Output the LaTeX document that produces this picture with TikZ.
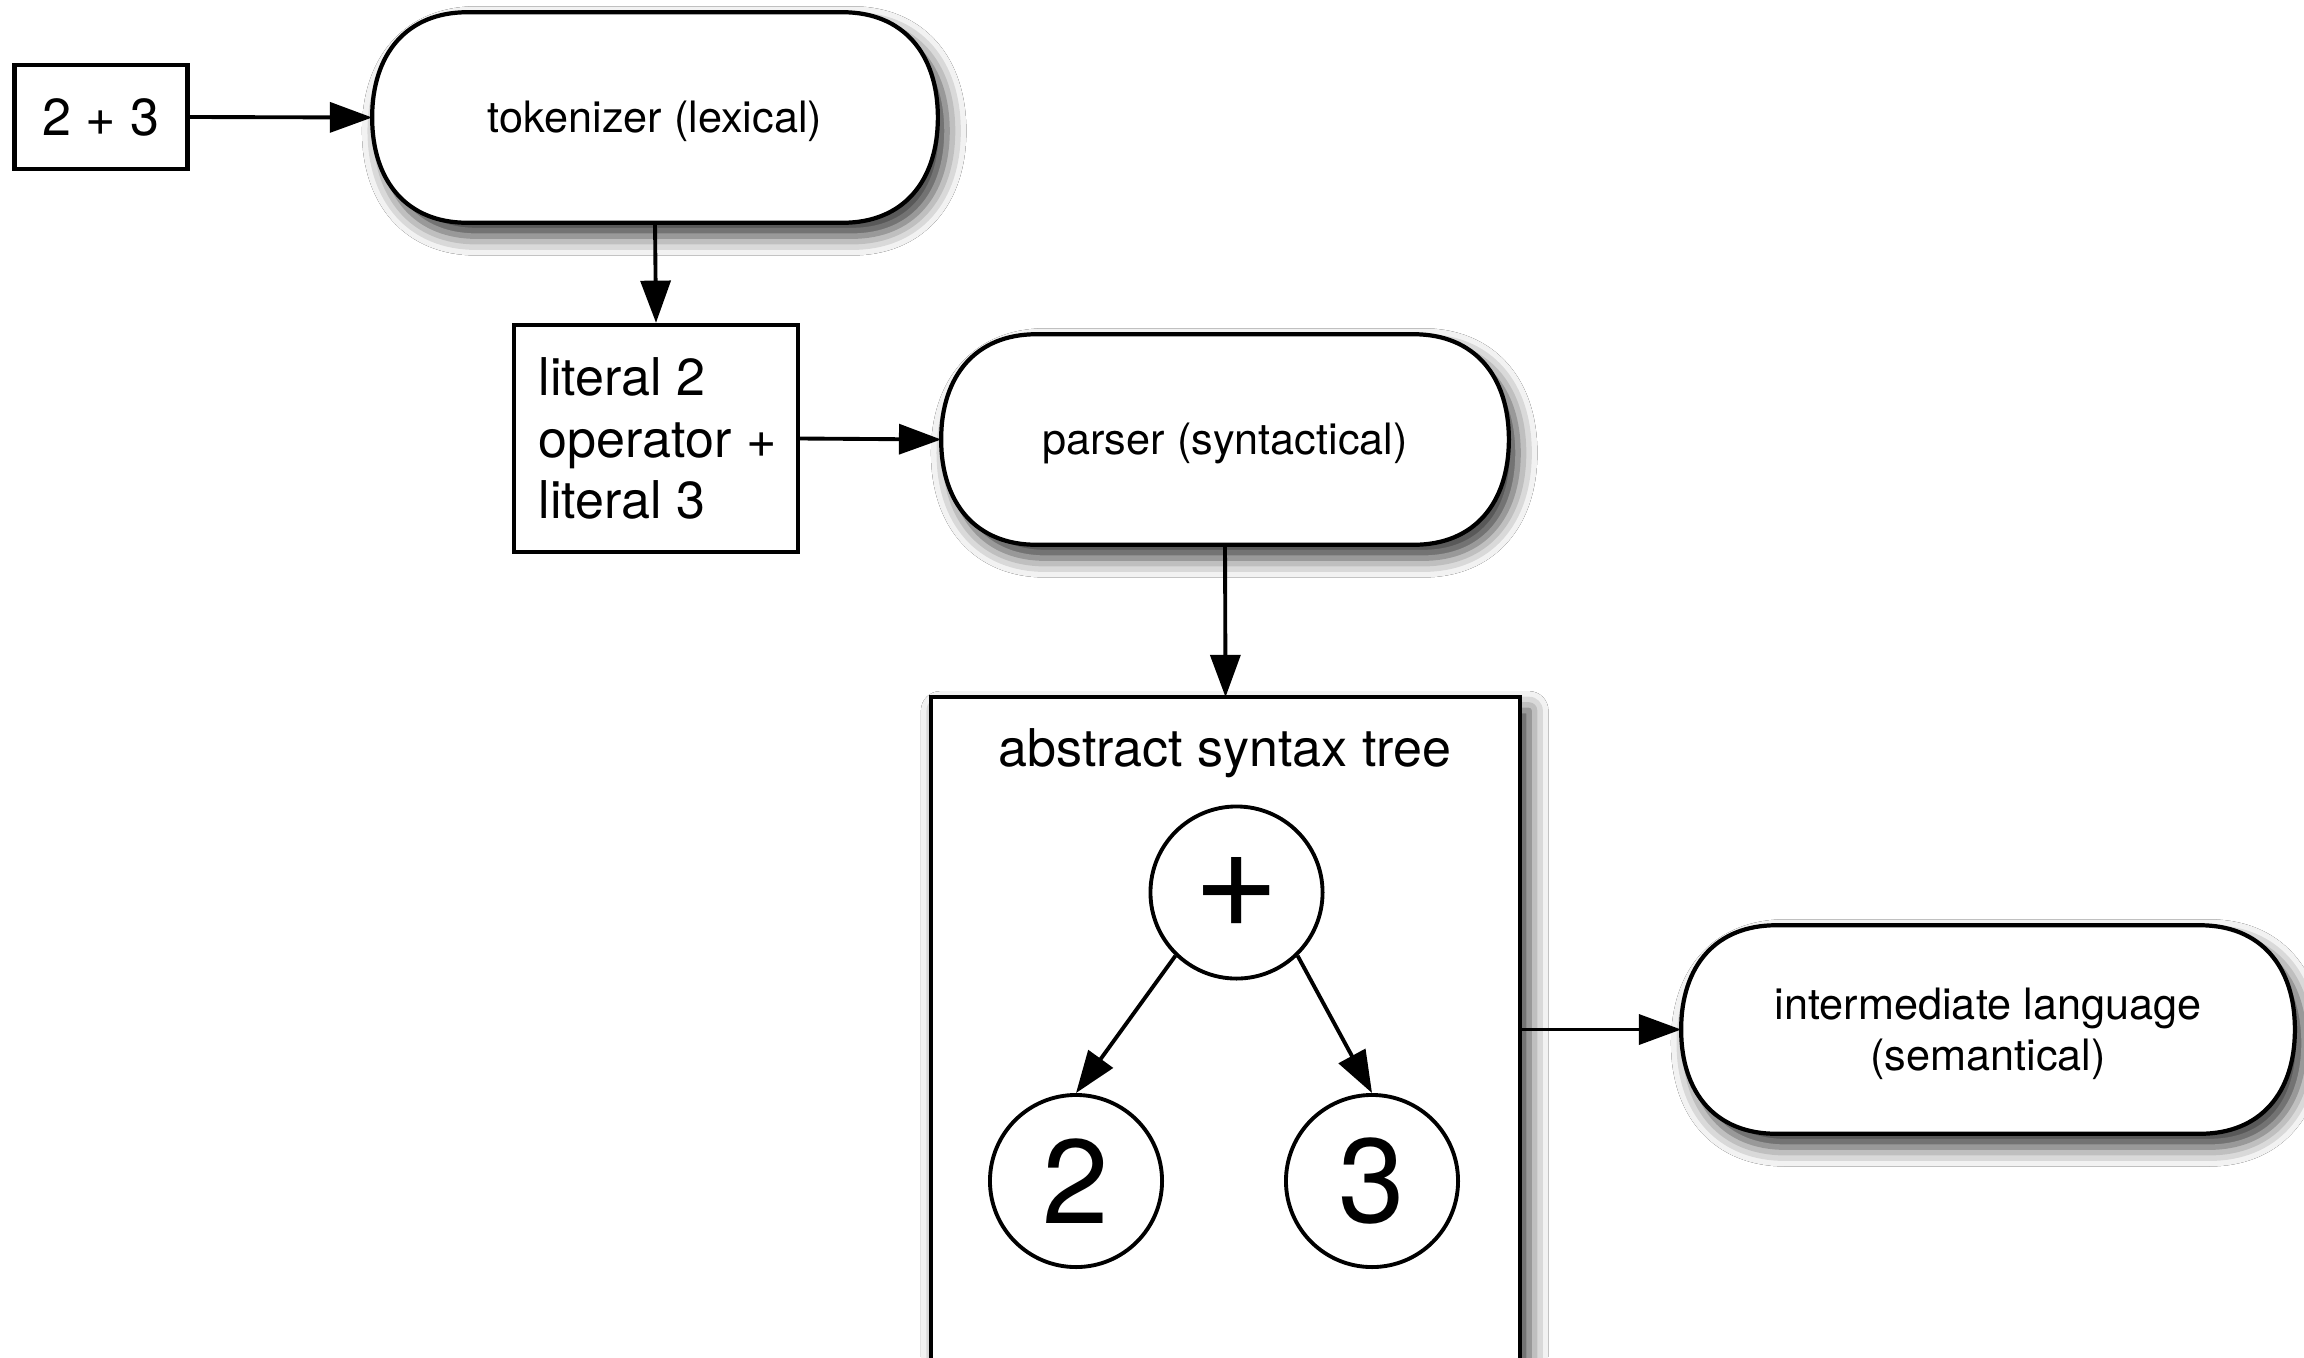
\documentclass[tikz,border=0pt]{standalone}
\usepackage{fontspec}
\setmainfont{TeX Gyre Heros}
\usetikzlibrary{arrows.meta,shadows.blur,backgrounds}
\tikzset{
  lbl/.style={font=\fontsize{12.3}{14.6}\selectfont, align=center},
  big/.style={font=\fontsize{14.8}{17.4}\selectfont},
  stadnode/.style={lbl, draw=none, inner sep=0pt},
  stad/.style={draw=black, line width=1.2pt, fill=white,
    blur shadow={shadow xshift=2.6pt, shadow yshift=-3.8pt, shadow blur radius=5.5pt, shadow opacity=80}},
  plainbox/.style={draw=black, line width=1.2pt, fill=white, inner sep=0pt},
  treenode/.style={circle, draw=black, line width=1.1pt, fill=white, minimum size=1.72cm, inner sep=0pt,
    font=\fontsize{34}{34}\selectfont},
  conn/.style={line width=1.1pt, draw=black, -{Triangle[length=12pt, width=8.5pt, fill=black]}},
}
\newcommand\lowered[1]{\raisebox{-0.04cm}[\height][\depth]{#1}}
\newcommand\stadiumoutline[1]{%
  \path[stad] ([xshift=0.95cm]#1.north west) -- ([xshift=-0.95cm]#1.north east)
    .. controls +(0.6cm,0) and +(0,0.64cm) .. (#1.east)
    .. controls +(0,-0.64cm) and +(0.6cm,0) .. ([xshift=-0.95cm]#1.south east)
    -- ([xshift=0.95cm]#1.south west)
    .. controls +(-0.6cm,0) and +(0,-0.64cm) .. (#1.west)
    .. controls +(0,0.64cm) and +(-0.6cm,0) .. ([xshift=0.95cm]#1.north west) -- cycle;}
\begin{document}
\begin{tikzpicture}[x=0.01cm, y=-0.01cm]
\useasboundingbox (0,0) rectangle (2304,1357);

% stadium nodes
\node[stadnode, minimum width=5.64cm, minimum height=2.09cm] (tok) at (655,117.5) {\lowered{tokenizer (lexical)}};
\node[stadnode, minimum width=5.66cm, minimum height=2.09cm] (parser) at (1225,439.5) {\lowered{parser (syntactical)}};
\node[stadnode, minimum width=6.12cm, minimum height=2.07cm] (inter) at (1988,1029.5) {\lowered{intermediate language}\\\lowered{(semantical)}};

% boxes
\node[plainbox, big, minimum width=1.73cm, minimum height=1.04cm] (input) at (101,117) {2 + 3};
\node[plainbox, big, minimum width=2.84cm, minimum height=2.27cm, align=left] (lit) at (656,438.5) {\hspace*{0.03cm}literal 2\\\hspace*{0.03cm}operator +\\\hspace*{0.03cm}literal 3};

% abstract syntax tree frame (runs past the bottom edge)
\node[draw=none, minimum width=5.87cm, minimum height=6.82cm, inner sep=0pt] (ast) at (1225.5,1039) {};
\node[big] (asttitle) at (1225,753) {abstract syntax tree};

\node[treenode, font=\fontsize{42}{42}\selectfont] (plus) at (1236.5,892.5) {+};
\node[treenode] (two) at (1076,1181) {2};
\node[treenode] (three) at (1372,1181) {3};

\begin{pgfonlayer}{background}
  \fill[white] (0,0) rectangle (2304,1357);
  \stadiumoutline{tok}
  \stadiumoutline{parser}
  \stadiumoutline{inter}
  \path[stad] (ast.south west) rectangle (ast.north east);
\end{pgfonlayer}

% connectors
\draw[conn] (input.east) -- (tok.west);
\draw[conn] (tok.south) -- (lit.north);
\draw[conn] (lit.east) -- (parser.west);
\draw[conn] (parser.south) -- (ast.north);
\draw[conn] (ast.east |- inter.west) -- (inter.west);
\draw[conn] (plus.-134) -- (two.north);
\draw[conn] (plus.-46) -- (three.north);
\end{tikzpicture}
\end{document}
